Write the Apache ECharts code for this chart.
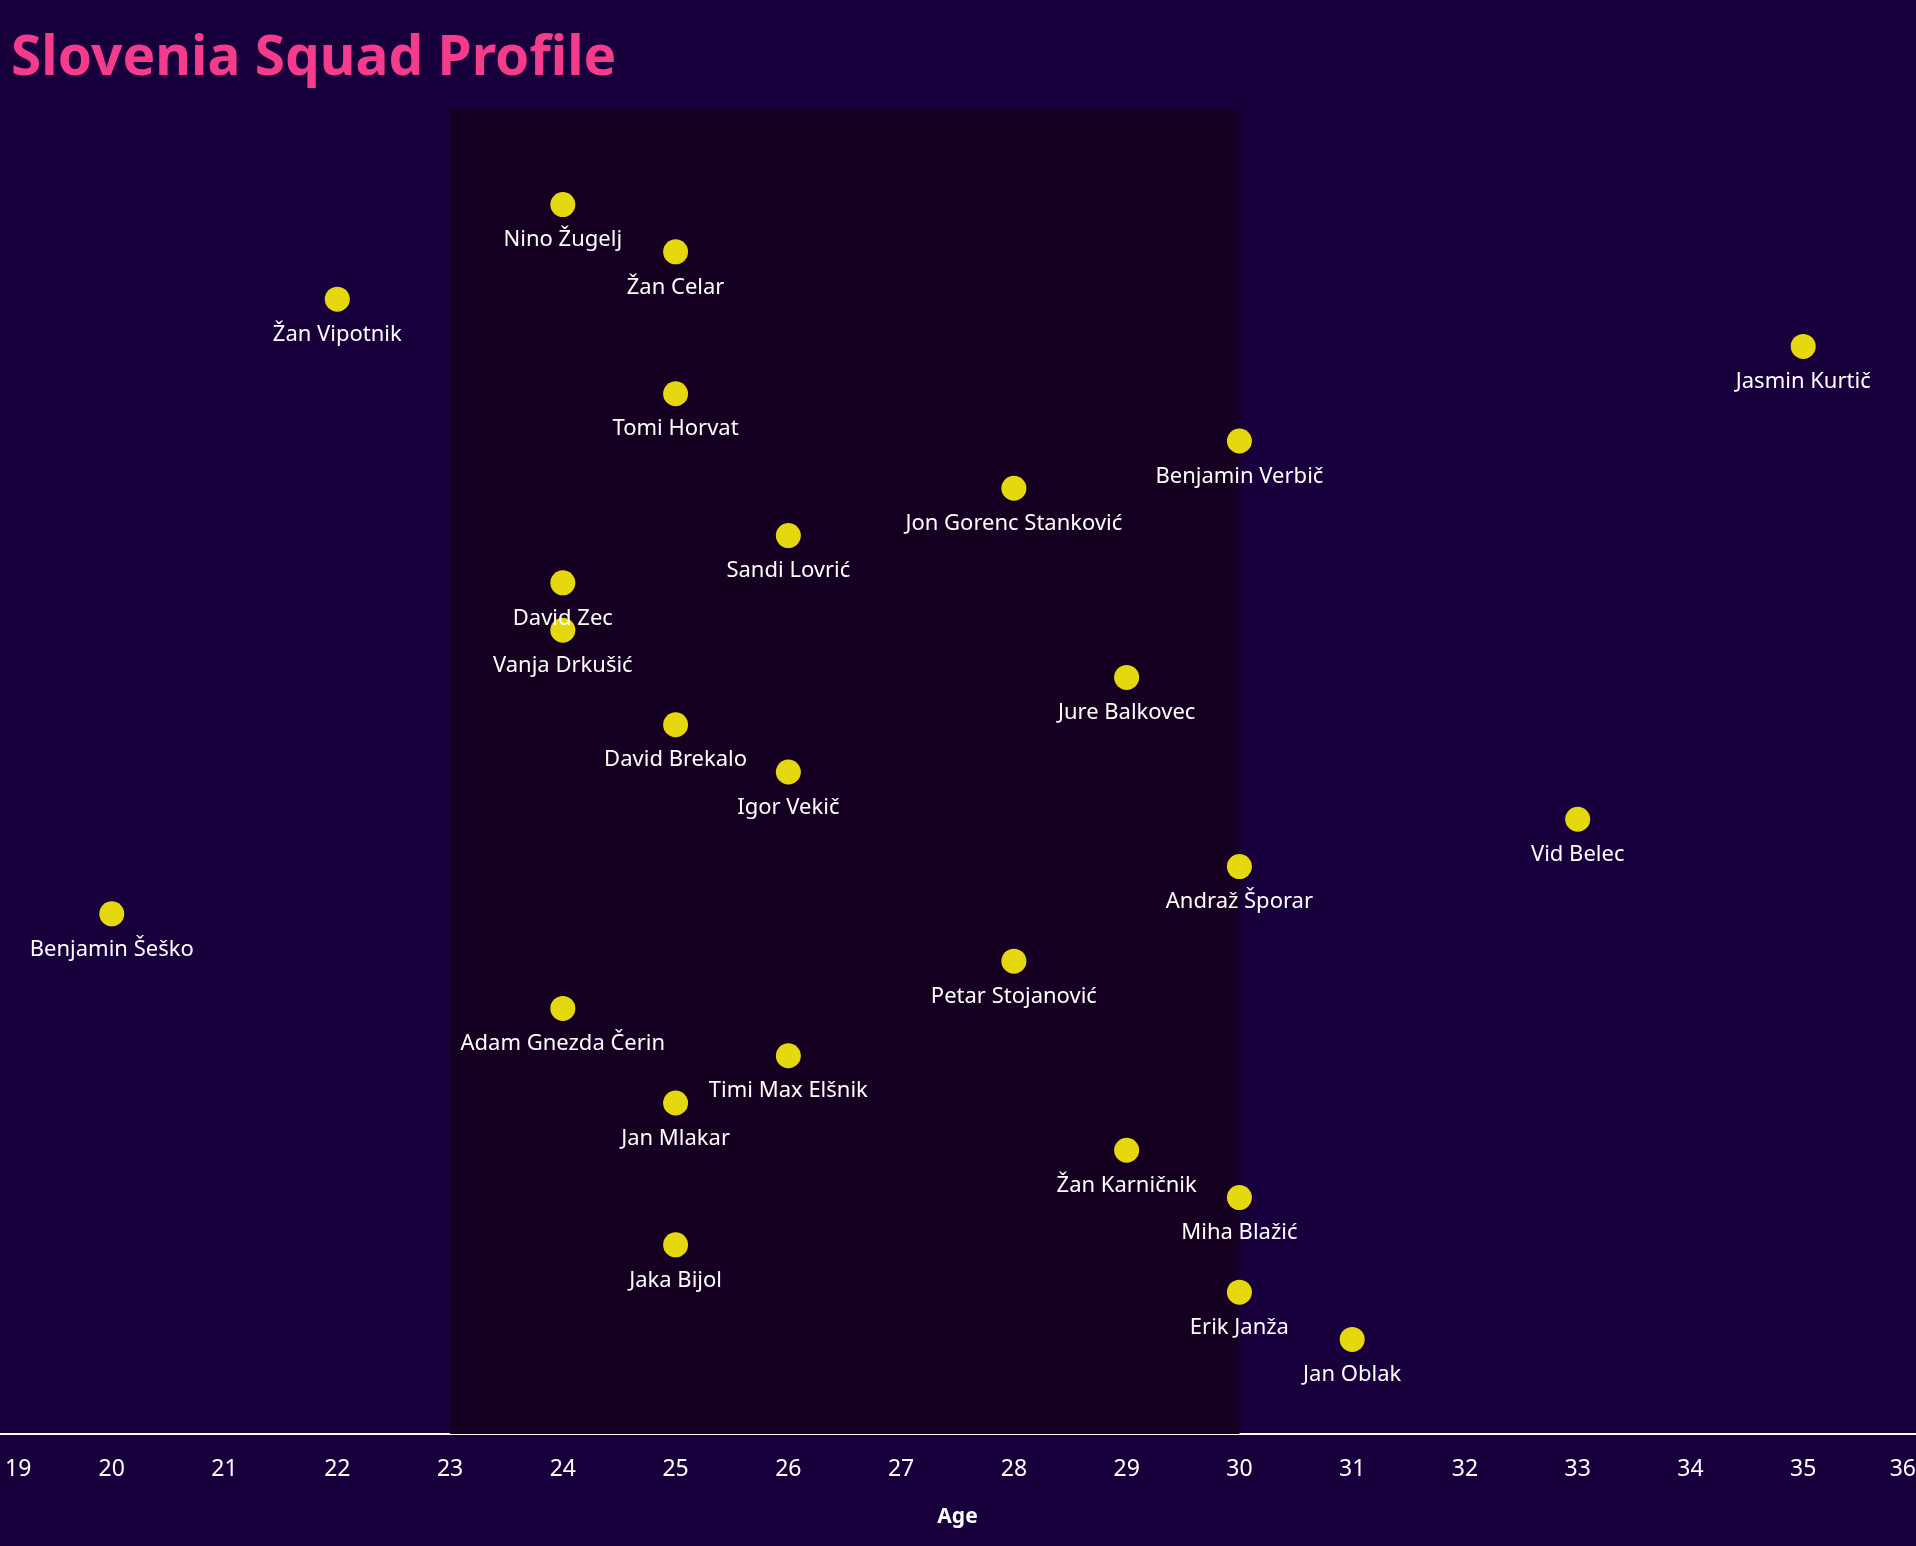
<!DOCTYPE html>
<html>
<head>
<meta charset="utf-8">
<script src="https://cdn.jsdelivr.net/npm/echarts@6/dist/echarts.min.js"></script>
<style>
html,body{margin:0;padding:0;background:#17003c;}
#chart{width:1916px;height:1546px;}
</style>
</head>
<body>
<div id="chart"></div>
<script>
const players = ["Nino Žugelj","Žan Celar","Žan Vipotnik","Jasmin Kurtič","Tomi Horvat","Benjamin Verbič","Jon Gorenc Stanković","Sandi Lovrić","David Zec","Vanja Drkušić","Jure Balkovec","David Brekalo","Igor Vekič","Vid Belec","Andraž Šporar","Benjamin Šeško","Petar Stojanović","Adam Gnezda Čerin","Timi Max Elšnik","Jan Mlakar","Žan Karničnik","Miha Blažić","Jaka Bijol","Erik Janža","Jan Oblak"];
const ages = [24,25,22,35,25,30,28,26,24,24,29,25,26,33,30,20,28,24,26,25,29,30,25,30,31];
const ranks = [1,2,3,4,5,6,7,8,9,10,11,12,13,14,15,16,17,18,19,20,21,22,23,24,25];
const primeAgeBand = [23, 30];
const ageMin = 19, ageMax = 36;

const data = players.map((n, i) => ({ value: [ages[i], ranks[i]], name: n }));

const chart = echarts.init(document.getElementById('chart'));
chart.setOption({
  backgroundColor: '#17003c',
  animation: false,
  title: {
    text: 'Slovenia Squad Profile',
    left: 6, top: 27,
    textStyle: { color: '#f53c8c', fontSize: 55, fontWeight: 'bold', fontFamily: 'Noto Sans' }
  },
  grid: { left: -1, right: 0, top: 110, bottom: 112, containLabel: false, outerBoundsMode: 'none' },
  xAxis: {
    type: 'value', min: ageMin, max: ageMax, interval: 1, position: 'bottom',
    name: 'Age', nameLocation: 'middle', nameGap: 73,
    nameTextStyle: { color: '#ffffff', fontSize: 21, fontWeight: 'bold', fontFamily: 'Noto Sans' },
    axisLine: { show: true, onZero: false, lineStyle: { color: '#ffffff', width: 2 } },
    axisTick: { show: false },
    splitLine: { show: false },
    axisLabel: { color: '#ffffff', fontSize: 23, margin: 24, fontFamily: 'Noto Sans',
      alignMinLabel: 'left', alignMaxLabel: 'right',
      formatter: v => v === ageMin ? '{p|' + v + '}' : String(v),
      rich: { p: { padding: [0, 0, 0, 6], color: '#ffffff', fontSize: 23, fontFamily: 'Noto Sans' } }
    }
  },
  yAxis: {
    type: 'value', min: -1, max: 27, inverse: true, show: false
  },
  series: [
    {
      type: 'scatter', data: [], silent: true, z: 1,
      markArea: {
        silent: true,
        itemStyle: { color: '#150022' },
        data: [[{ xAxis: primeAgeBand[0] }, { xAxis: primeAgeBand[1] }]]
      }
    },
    {
      type: 'scatter', z: 5,
      data: data,
      symbolSize: 25,
      itemStyle: { color: '#e6d80f', opacity: 1 },
      label: {
        show: true, position: 'bottom', distance: 12,
        formatter: p => p.name,
        color: '#ffffff', fontSize: 22, fontFamily: 'Noto Sans'
      }
    }
  ]
});
</script>
</body>
</html>
